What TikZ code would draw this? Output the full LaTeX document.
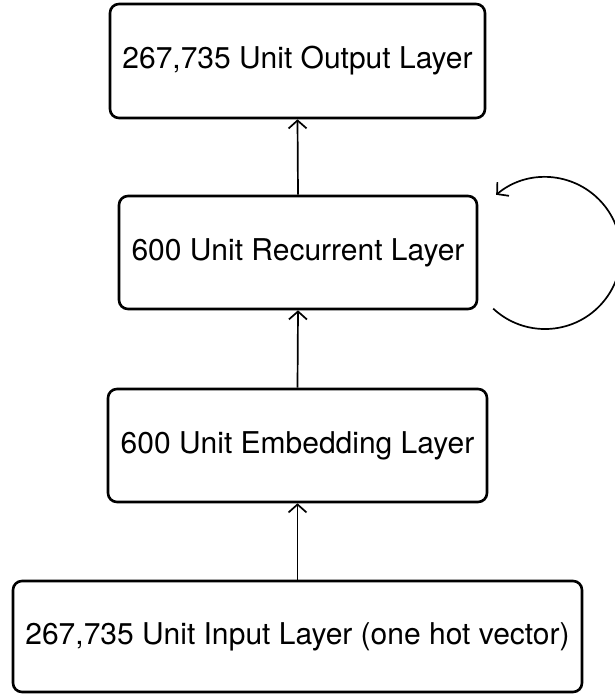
\documentclass[tikz,border=0pt]{standalone}
\usepackage{fontspec}
\setmainfont{TeX Gyre Heros}
\usetikzlibrary{arrows.meta}
\begin{document}
\begin{tikzpicture}[x=1pt,y=-1pt,
  layer/.style={draw, line width=2.6pt, rounded corners=9pt, inner sep=0pt,
    font=\fontsize{30}{36}\selectfont, align=center},
  link/.style={line width=1.7pt, -{Straight Barb[length=8pt,width=18pt,line width=1.7pt]}}]
\useasboundingbox (0,0) rectangle (615,694);
\node[layer, minimum width=375pt, minimum height=114pt] (out) at (297.5,61) {267,735 Unit Output Layer};
\node[layer, minimum width=358pt, minimum height=113pt] (rec) at (298,252.5) {600 Unit Recurrent Layer};
\node[layer, minimum width=379pt, minimum height=113pt] (emb) at (297.5,445.5) {600 Unit Embedding Layer};
\node[layer, minimum width=569pt, minimum height=111pt] (inp) at (297.5,636.5) {267,735 Unit Input Layer (one hot vector)};
\draw[link] (rec.north) -- (out.south);
\draw[link] (emb.north) -- (rec.south);
\draw[link] (inp.north) -- (emb.south);
\coordinate (loopstart) at (493.2,308.6);
\draw[link] (loopstart) arc[start angle=-133, end angle=130, radius=76pt];
\end{tikzpicture}
\end{document}
